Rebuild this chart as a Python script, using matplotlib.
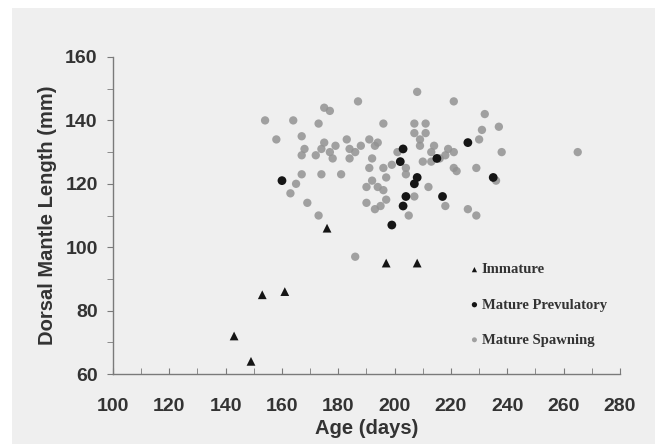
import numpy as np
import matplotlib
matplotlib.use("Agg")
import matplotlib.pyplot as plt
from matplotlib.patches import Rectangle
from matplotlib.ticker import MultipleLocator

plt.rcParams['font.family'] = ['Liberation Sans', 'DejaVu Sans']

# Immature (triangles)
imm_age = [143, 149, 153, 161, 176, 197, 208]
imm_len = [72, 64, 85, 86, 106, 95, 95]

# Mature prevulatory (black dots)
prev_age = [160, 226, 203, 202, 215, 208, 207, 204, 217, 203, 199, 235]
prev_len = [121, 133, 131, 127, 128, 122, 120, 116, 116, 113, 107, 122]

# Mature spawning (grey dots)
spawn_age = [154, 164, 173, 175, 177, 187, 158, 167, 168, 167, 174, 172, 177, 178,
             183, 184, 184, 188, 191, 193, 192, 167, 174, 181, 165, 163, 169, 173,
             191, 190, 192, 190, 193, 208, 221, 232, 237, 231, 230, 196, 207, 211,
             207, 194, 201, 209, 214, 219, 221, 210, 213, 216, 221, 222, 204, 204,
             196, 197, 194, 196, 212, 229, 238, 236, 197, 195, 207, 218, 226, 229,
             205, 265, 186, 175, 179, 186, 213, 209, 218, 199, 211]
spawn_len = [140, 140, 139, 144, 143, 146, 134, 135, 131, 129, 131, 129, 130, 128,
             134, 131, 128, 132, 134, 132, 128, 123, 123, 123, 120, 117, 114, 110,
             125, 119, 121, 114, 112, 149, 146, 142, 138, 137, 134, 139, 139, 139,
             136, 133, 130, 132, 132, 131, 130, 127, 127, 128, 125, 124, 125, 123,
             125, 122, 119, 118, 119, 125, 130, 121, 115, 113, 116, 113, 112, 110,
             110, 130, 97, 133, 132, 130, 130, 134, 129, 126, 136]

fig = plt.figure(figsize=(6.58, 4.46), dpi=100, facecolor="white")
# light grey panel behind the chart
panel = Rectangle((12 / 658, 0.005), 643 / 658, 1 - 8 / 446 - 0.005,
                  transform=fig.transFigure, facecolor="#efefef",
                  edgecolor="none", zorder=-10)
fig.patches.append(panel)

ax = fig.add_axes([0.1717, 0.1614, 0.7705, 0.7108])
ax.set_zorder(5)
ax.set_facecolor("#efefef")

ax.scatter(spawn_age, spawn_len, s=36, marker="o", color="#939393",
           edgecolors="none", alpha=0.85, label="Mature Spawning", zorder=2)
ax.scatter(prev_age, prev_len, s=40, marker="o", color="#151515",
           edgecolors="none", label="Mature Prevulatory", zorder=3)
ax.scatter(imm_age, imm_len, s=40, marker="^", color="#151515",
           edgecolors="none", label="Immature", zorder=3)

ax.set_xlim(100, 280)
ax.set_ylim(60, 160)
ax.xaxis.set_major_locator(MultipleLocator(20))
ax.xaxis.set_minor_locator(MultipleLocator(10))
ax.yaxis.set_major_locator(MultipleLocator(20))
ax.yaxis.set_minor_locator(MultipleLocator(10))

for s in ["top", "right"]:
    ax.spines[s].set_visible(False)
for s in ["left", "bottom"]:
    ax.spines[s].set_color("#7a7a7a")
    ax.spines[s].set_linewidth(1.0)

ax.tick_params(axis="x", which="both", direction="in", length=4, color="#7a7a7a",
               labelsize=14, labelcolor="#333333", pad=17)
ax.tick_params(axis="y", which="both", direction="out", length=4, color="#7a7a7a",
               labelsize=14, labelcolor="#333333", pad=7)
for lab in ax.get_xticklabels() + ax.get_yticklabels():
    lab.set_fontweight("bold")

ax.set_xlabel("Age (days)", fontsize=14.5, fontweight="bold", color="#333333", labelpad=3)
ax.set_ylabel("Dorsal Mantle Length (mm)", fontsize=14.5, fontweight="bold",
              color="#333333", labelpad=6)

handles, labels = ax.get_legend_handles_labels()
order = [2, 1, 0]
leg = ax.legend([handles[i] for i in order], [labels[i] for i in order],
                loc="lower right", bbox_to_anchor=(1.0, 0.045), frameon=False,
                prop={"family": "Liberation Serif", "weight": "bold", "size": 10.5},
                handlelength=1.0, handletextpad=0.0, labelspacing=1.5,
                markerscale=0.6)
for t in leg.get_texts():
    t.set_color("#333333")

fig.savefig("out.png", dpi=100, facecolor="white")
